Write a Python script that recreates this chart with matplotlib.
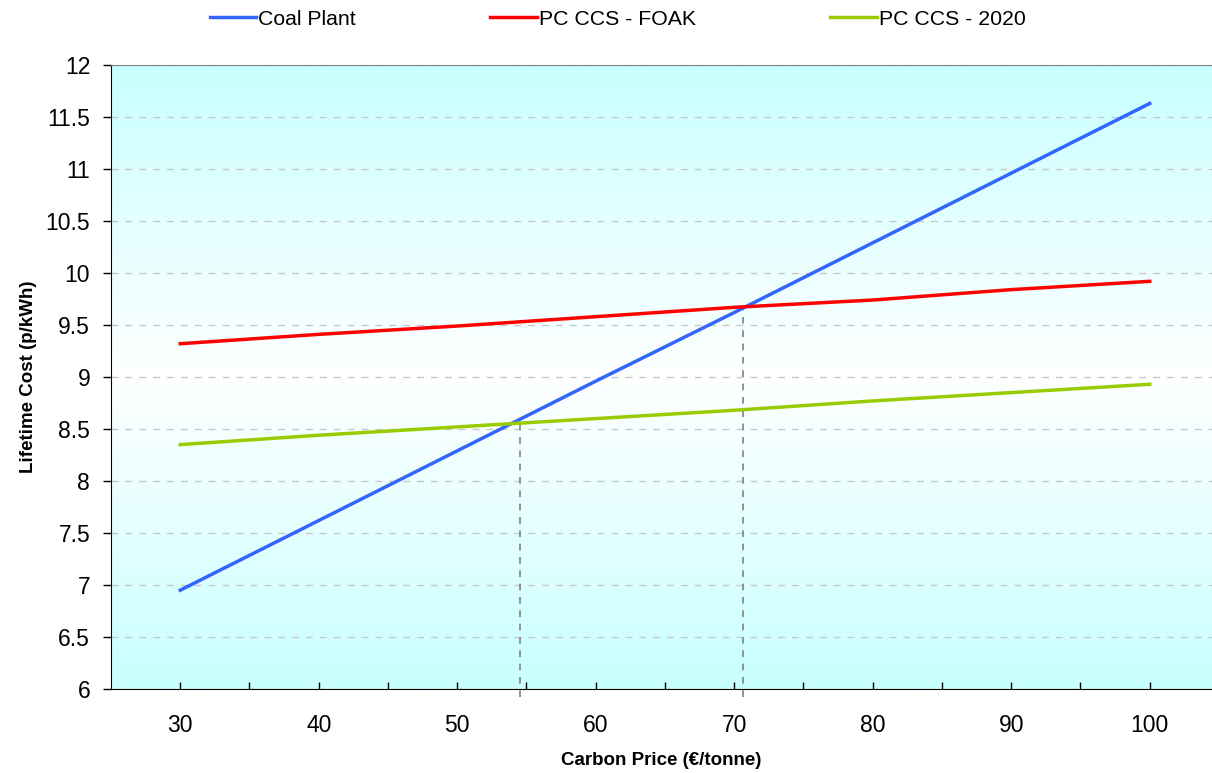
import numpy as np
import matplotlib.pyplot as plt
from matplotlib.colors import LinearSegmentedColormap

plt.rcParams['font.family'] = ['Liberation Sans', 'DejaVu Sans']

carbon_price = [30, 40, 50, 60, 70, 80, 90, 100]
coal_plant = [6.95, 7.62, 8.29, 8.96, 9.62, 10.29, 10.96, 11.63]
pc_ccs_foak = [9.32, 9.41, 9.49, 9.58, 9.67, 9.74, 9.84, 9.92]
pc_ccs_2020 = [8.35, 8.44, 8.52, 8.60, 8.68, 8.77, 8.85, 8.93]

# break-even points (carbon price, cost)
crossings_x = [54.5, 70.6]
crossings_y = [8.57, 9.68]

fig = plt.figure(figsize=(12.12, 7.73), dpi=100)
ax = fig.add_axes([111 / 1212, 84 / 773, 1101 / 1212, 624 / 773])

# background gradient: cyan at top and bottom, white in the middle
cmap = LinearSegmentedColormap.from_list('bg', ['#c8ffff', '#ffffff', '#c8ffff'])
grad = np.linspace(0, 1, 256).reshape(-1, 1)
ax.imshow(grad, cmap=cmap, aspect='auto', extent=[25, 104.5, 6, 12],
          origin='lower', zorder=0)

ax.set_xlim(25, 104.5)
ax.set_ylim(6, 12)

ax.set_yticks(np.arange(6, 12.01, 0.5))
ax.set_yticklabels([f'{v:g}' for v in np.arange(6, 12.01, 0.5)])
ax.yaxis.grid(True, linestyle=(0, (5, 5)), color='#c8c8c8', linewidth=1)
ax.set_axisbelow(True)

ax.set_xticks(carbon_price)
ax.set_xticks(np.arange(35, 101, 10), minor=True)
ax.tick_params(axis='x', which='both', direction='in', length=5, width=1,
               labelsize=16.5, pad=18)
ax.tick_params(axis='y', direction='out', length=6, width=1, labelsize=16.5,
               pad=9)

for xc, yc in zip(crossings_x, crossings_y):
    ax.plot([xc, xc], [5.92, yc], color='#808080', linestyle=(0, (4, 4)),
            linewidth=1.2, clip_on=False, zorder=2)

ax.plot(carbon_price, coal_plant, color='#3366ff', linewidth=2.5,
        label='Coal Plant', zorder=3)
ax.plot(carbon_price, pc_ccs_foak, color='#ff0000', linewidth=2.5,
        label='PC CCS - FOAK', zorder=3)
ax.plot(carbon_price, pc_ccs_2020, color='#99cc00', linewidth=2.5,
        label='PC CCS - 2020', zorder=3)

ax.spines['top'].set_color('#808080')
ax.spines['right'].set_visible(False)
ax.spines['left'].set_color('black')
ax.spines['bottom'].set_color('black')

ax.set_xlabel('Carbon Price (€/tonne)', fontsize=13.5, fontweight='bold',
              labelpad=11)
ax.set_ylabel('Lifetime Cost (p/kWh)', fontsize=13.5, fontweight='bold',
              labelpad=6)

fig.legend(loc='upper center', bbox_to_anchor=(0.5095, 1.012), ncol=3,
           frameon=False, fontsize=15.3, handlelength=2.2, handletextpad=0.1,
           columnspacing=6.3)

fig.savefig('out.png', dpi=100)
